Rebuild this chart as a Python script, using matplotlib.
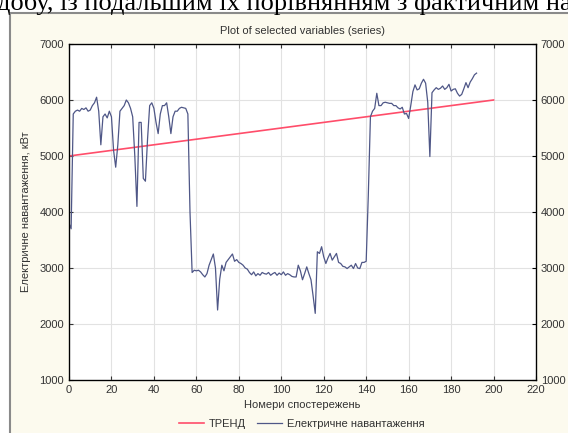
import matplotlib
matplotlib.use("Agg")
import matplotlib.pyplot as plt
from matplotlib.patches import Rectangle

plt.rcParams['font.family'] = ['Liberation Sans', 'DejaVu Sans']

# electric load, one value per observation (0..192)
load = [
    3800, 3700, 5750, 5800, 5820, 5800, 5850, 5830, 5860, 5800,
    5820, 5900, 5950, 6050, 5800, 5200, 5700, 5750, 5680, 5800,
    5700, 5100, 4800, 5200, 5800, 5850, 5900, 6000, 5950, 5850,
    5700, 5000, 4100, 5600, 5600, 4600, 4550, 5300, 5900, 5950,
    5850, 5600, 5400, 5750, 5900, 5900, 5950, 5700, 5400, 5700,
    5800, 5800, 5850, 5870, 5860, 5850, 5750, 4000, 2920, 2960,
    2950, 2960, 2930, 2880, 2840, 2900, 3050, 3150, 3250, 3000,
    2250, 2800, 3050, 2950, 3100, 3150, 3200, 3250, 3120, 3150,
    3100, 3080, 3050, 3000, 2980, 2920, 2880, 2930, 2860, 2900,
    2870, 2920, 2900, 2890, 2920, 2870, 2900, 2920, 2870, 2910,
    2880, 2930, 2870, 2900, 2880, 2850, 2840, 2840, 3050, 2950,
    2790, 2900, 3020, 2900, 2790, 2500, 2190, 3290, 3260, 3380,
    3200, 3080, 3180, 3260, 3140, 3200, 3260, 3100, 3080, 3030,
    3020, 2990, 3020, 3050, 2990, 3080, 3000, 2990, 3100, 3100,
    3120, 4300, 5700, 5800, 5850, 6120, 5900, 5900, 5950, 5960,
    5950, 5940, 5940, 5900, 5900, 5860, 5840, 5870, 5750, 5760,
    5670, 5900, 6150, 6270, 6180, 6200, 6300, 6370, 6300, 5960,
    4990, 6130, 6180, 6220, 6190, 6210, 6250, 6190, 6220, 6280,
    6160, 6190, 6200, 6120, 6070, 6100, 6200, 6310, 6220, 6320,
    6380, 6450, 6480,
]
obs = list(range(len(load)))

# linear trend endpoints
trend_x = [0, 200]
trend_y = [5000, 6000]

xticks = list(range(0, 221, 20))
yticks = list(range(1000, 7001, 1000))

fig = plt.figure(figsize=(5.68, 4.33), dpi=100)
fig.patch.set_facecolor('white')

# page text above the screenshot (cut at the top like in the scan)
fig.text(-0.005, 1.0 - 10 / 433, "добу, із подальшим їх порівнянням з фактичним на",
         family='Liberation Serif', fontsize=19, ha='left', va='baseline', color='black')

# window frame of the statistics program
fig.add_artist(Rectangle((10 / 568, -0.01), 1.0, 1 - 13 / 433 + 0.01,
                         transform=fig.transFigure, facecolor='#fcfaee',
                         edgecolor='#8a8a8a', linewidth=1.5, zorder=-1))

ax = fig.add_axes([69 / 568, 1 - 380 / 433, (536 - 69) / 568, (380 - 44) / 433])
ax.set_facecolor('white')

l1, = ax.plot(trend_x, trend_y, color='#ff4d6a', lw=1.2, label='ТРЕНД')
l2, = ax.plot(obs, load, color='#4f5787', lw=0.9, label='Електричне навантаження')

ax.set_xlim(0, 220)
ax.set_ylim(1000, 7000)
ax.set_xticks(xticks)
ax.set_yticks(yticks)
ax.grid(True, color='#e2e2e2', lw=0.8)
ax.tick_params(direction='in', labelsize=8, colors='#333333', length=3,
               top=True, right=False, labelcolor='#333333')
for s in ax.spines.values():
    s.set_color('#555555')
    s.set_linewidth(1.0)

ax2 = ax.twinx()
ax2.set_ylim(1000, 7000)
ax2.set_yticks(yticks)
ax2.tick_params(direction='in', labelsize=8, length=3, labelcolor='#333333')

ax.set_title('Plot of selected variables (series)', fontsize=8, color='#333333', pad=7)
ax.set_xlabel('Номери спостережень', fontsize=8, color='#333333', labelpad=4)
ax.set_ylabel('Електричне навантаження, кВт', fontsize=8, color='#333333', labelpad=6)

fig.legend(handles=[l1, l2], loc='center', bbox_to_anchor=(302 / 568, 1 - 424 / 433),
           ncol=2, frameon=False, fontsize=8, handlelength=2.2, columnspacing=1.0,
           handletextpad=0.5, labelcolor='#333333')

fig.savefig('out.png', dpi=100, facecolor=fig.get_facecolor())
